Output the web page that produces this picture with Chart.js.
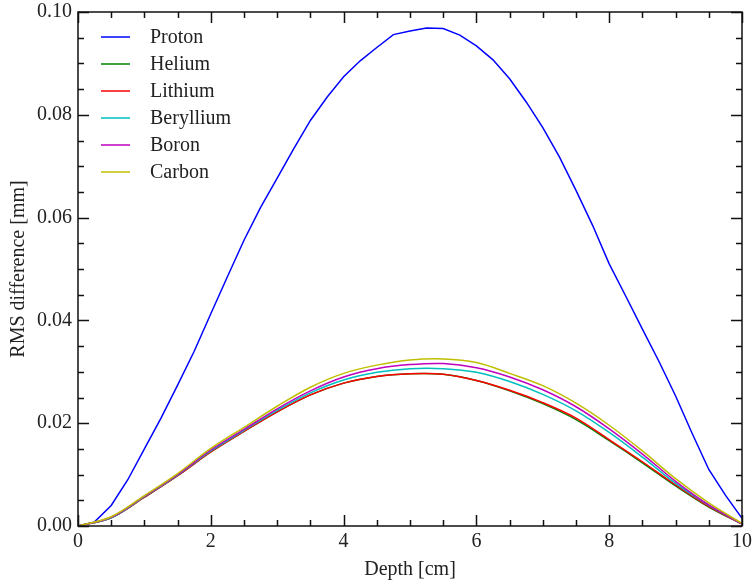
<!DOCTYPE html>
<html>
<head>
<meta charset="utf-8">
<script src="https://cdn.jsdelivr.net/npm/chart.js@4.4.1/dist/chart.umd.min.js"></script>
<style>
  html, body { margin: 0; padding: 0; background: #fff; }
  #wrap { width: 754px; height: 585px; position: relative; }
</style>
</head>
<body>
<div id="wrap"><canvas id="rmsChart" width="754" height="585"></canvas></div>
<script>
// depth grid (cm)
var protonDepth = [0, 0.25, 0.5, 0.75, 1, 1.25, 1.5, 1.75, 2, 2.25, 2.5, 2.75, 3, 3.25, 3.5, 3.75, 4, 4.25, 4.5, 4.75,
    5, 5.25, 5.5, 5.75, 6, 6.25, 6.5, 6.75, 7, 7.25, 7.5, 7.75, 8, 8.25, 8.5, 8.75, 9, 9.25, 9.5, 9.75, 10];
var ionDepth = [0, 0.5, 1, 1.5, 2, 2.5, 3, 3.5, 4, 4.5, 5, 5.5, 6, 6.5, 7, 7.5, 8, 8.5, 9, 9.5, 10];

// RMS difference (mm)
var proton = [0, 0.0008, 0.0040, 0.0090, 0.0150, 0.0210, 0.0274, 0.0340, 0.0413, 0.0485, 0.0556, 0.0620, 0.0677,
    0.0734, 0.0789, 0.0834, 0.0874, 0.0905, 0.0931, 0.0956, 0.0963, 0.0969, 0.0968, 0.0955, 0.0934, 0.0907,
    0.0870, 0.0825, 0.0775, 0.0718, 0.0653, 0.0585, 0.0510, 0.0447, 0.0383, 0.0320, 0.0253, 0.0180, 0.0110,
    0.0060, 0.0015];
var helium = [0, 0.0016, 0.0056, 0.0098, 0.0144, 0.0184, 0.0222, 0.0255, 0.0278, 0.0291, 0.0296, 0.0295, 0.0283,
    0.0263, 0.0238, 0.0207, 0.0166, 0.0123, 0.0078, 0.0037, 0.0004];
var lithium = [0, 0.0016, 0.0056, 0.0098, 0.0144, 0.0184, 0.0222, 0.0255, 0.0278, 0.0291, 0.0296, 0.0295, 0.0283,
    0.0264, 0.0240, 0.0210, 0.0168, 0.0125, 0.0080, 0.0038, 0.0004];
var beryllium = [0, 0.0016, 0.0057, 0.0099, 0.0146, 0.0186, 0.0225, 0.0259, 0.0284, 0.0299, 0.0306, 0.0306, 0.0299,
    0.0281, 0.0256, 0.0224, 0.0182, 0.0134, 0.0083, 0.0040, 0.0004];
var boron = [0, 0.0017, 0.0058, 0.0100, 0.0148, 0.0188, 0.0228, 0.0263, 0.0290, 0.0306, 0.0314, 0.0316, 0.0308,
    0.0290, 0.0265, 0.0232, 0.0189, 0.0140, 0.0087, 0.0041, 0.0004];
var carbon = [0, 0.0018, 0.0059, 0.0102, 0.0151, 0.0192, 0.0233, 0.0270, 0.0297, 0.0313, 0.0323, 0.0325, 0.0318,
    0.0297, 0.0273, 0.0239, 0.0196, 0.0146, 0.0092, 0.0045, 0.0005];

var seriesNames = ['Proton', 'Helium', 'Lithium', 'Beryllium', 'Boron', 'Carbon'];
var seriesColors = ['#0000ff', '#008000', '#ff0000', '#00bfbf', '#bf00bf', '#bfbf00'];

var xTicks = [0, 2, 4, 6, 8, 10];
var yTicks = [0, 0.02, 0.04, 0.06, 0.08, 0.10];

var FONT = "'Liberation Serif', 'Times New Roman', serif";

function pts(xs, ys) {
    var out = [];
    for (var i = 0; i < xs.length; i++) out.push({ x: xs[i], y: ys[i] });
    return out;
}

function makeSet(i, xs, ys, smooth) {
    return {
        label: seriesNames[i],
        data: pts(xs, ys),
        borderColor: seriesColors[i],
        backgroundColor: seriesColors[i],
        borderWidth: 1.5,
        pointRadius: 0,
        fill: false,
        tension: smooth ? 0.35 : 0,
        order: 10 - i
    };
}

// scales shouldn't grow the layout for their edge labels
function noEdgePadding(s) {
    s.paddingTop = 0;
    s.paddingBottom = 0;
    s.paddingLeft = 0;
    s.paddingRight = 0;
}

// box, inward ticks on all sides, legend and axis titles
var framePlugin = {
    id: 'frame',
    afterDatasetsDraw: function (chart) {
        var ctx = chart.ctx;
        var a = chart.chartArea;
        var xs = chart.scales.x, ys = chart.scales.y;
        ctx.save();
        ctx.strokeStyle = '#111';
        ctx.lineWidth = 1.5;
        ctx.strokeRect(a.left, a.top, a.right - a.left, a.bottom - a.top);

        ctx.beginPath();
        for (var v = 0; v <= 10.001; v += 0.5) {
            var len = (Math.abs(v / 2 - Math.round(v / 2)) < 1e-6) ? 11 : 6;
            var px = Math.round(xs.getPixelForValue(v)) + 0.5;
            ctx.moveTo(px, a.bottom); ctx.lineTo(px, a.bottom - len);
            ctx.moveTo(px, a.top); ctx.lineTo(px, a.top + len);
        }
        for (var k = 0; k <= 20; k++) {
            var yl = (k % 4 === 0) ? 11 : 6;
            var py = Math.round(ys.getPixelForValue(k * 0.005)) + 0.5;
            ctx.moveTo(a.left, py); ctx.lineTo(a.left + yl, py);
            ctx.moveTo(a.right, py); ctx.lineTo(a.right - yl, py);
        }
        ctx.stroke();

        // legend
        ctx.font = '20px ' + FONT;
        ctx.textBaseline = 'middle';
        ctx.textAlign = 'left';
        for (var i = 0; i < seriesNames.length; i++) {
            var ly = a.top + 25 + i * 27;
            ctx.strokeStyle = seriesColors[i];
            ctx.lineWidth = 1.5;
            ctx.beginPath();
            ctx.moveTo(a.left + 23, ly);
            ctx.lineTo(a.left + 52, ly);
            ctx.stroke();
            ctx.fillStyle = '#222';
            ctx.fillText(seriesNames[i], a.left + 72, ly + 1);
        }

        // axis titles
        ctx.fillStyle = '#222';
        ctx.textAlign = 'center';
        ctx.fillText('Depth [cm]', (a.left + a.right) / 2, 570);
        ctx.translate(19, (a.top + a.bottom) / 2);
        ctx.rotate(-Math.PI / 2);
        ctx.fillText('RMS difference [mm]', 0, 0);
        ctx.restore();
    }
};

var ctx = document.getElementById('rmsChart').getContext('2d');
new Chart(ctx, {
    type: 'line',
    data: {
        datasets: [
            makeSet(0, protonDepth, proton, false),
            makeSet(1, ionDepth, helium, true),
            makeSet(2, ionDepth, lithium, true),
            makeSet(3, ionDepth, beryllium, true),
            makeSet(4, ionDepth, boron, true),
            makeSet(5, ionDepth, carbon, true)
        ]
    },
    options: {
        responsive: false,
        animation: false,
        layout: { padding: { top: 12, right: 12, left: 0, bottom: 0 } },
        plugins: {
            legend: { display: false },
            tooltip: { enabled: false }
        },
        scales: {
            x: {
                type: 'linear',
                min: 0,
                max: 10,
                afterBuildTicks: function (s) { s.ticks = xTicks.map(function (v) { return { value: v }; }); },
                afterFit: function (s) { s.height = 59; noEdgePadding(s); },
                grid: { display: false, drawTicks: false },
                border: { display: false },
                ticks: {
                    color: '#222',
                    padding: 4,
                    maxRotation: 0,
                    autoSkip: false,
                    font: { family: FONT, size: 20 },
                    callback: function (v) { return String(v); }
                }
            },
            y: {
                min: 0,
                max: 0.1,
                afterBuildTicks: function (s) { s.ticks = yTicks.map(function (v) { return { value: v }; }); },
                afterFit: function (s) { s.width = 78; noEdgePadding(s); },
                grid: { display: false, drawTicks: false },
                border: { display: false },
                ticks: {
                    color: '#222',
                    padding: 6,
                    autoSkip: false,
                    font: { family: FONT, size: 20 },
                    callback: function (v) { return Number(v).toFixed(2); }
                }
            }
        }
    },
    plugins: [framePlugin]
});
</script>
</body>
</html>
